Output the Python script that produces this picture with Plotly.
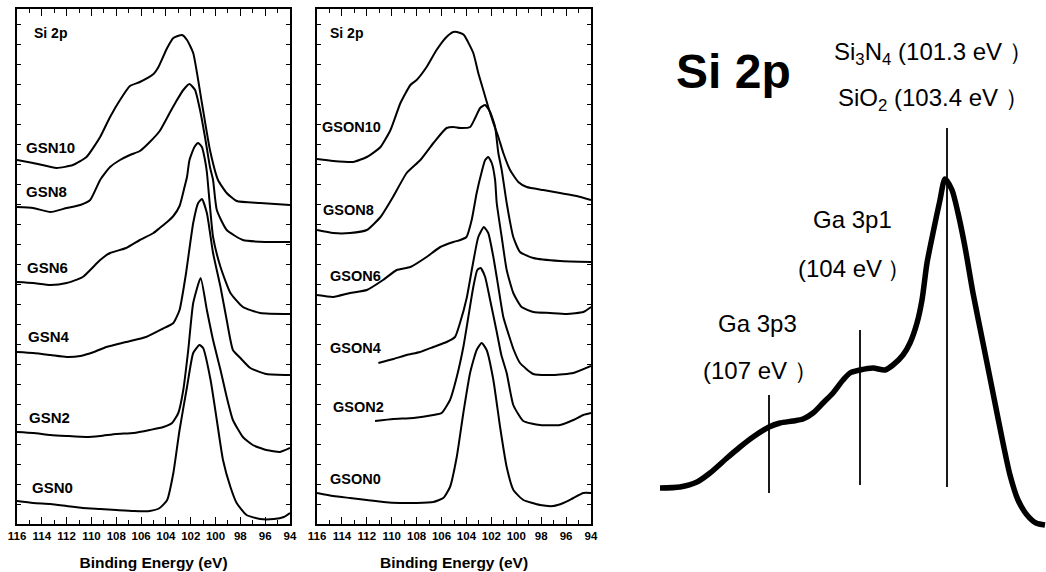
import plotly.graph_objects as go

W, H = 1046, 572

# ---------------- data (binding energy in eV, intensity in a.u.) ----------------
gsn10_e = [116.0, 114.7, 112.8, 111.5, 110.4, 109.3, 108.5, 107.7, 106.9, 106.1, 105.0, 104.6, 103.9, 103.4, 102.7, 102.3, 101.8, 101.1, 100.45, 99.8, 99.1, 98.3, 96.4, 94.0]
gsn10_i = [364, 361, 356, 359, 367, 387, 407, 424, 438, 442, 450, 457, 476, 486, 489, 484, 471, 421, 374, 344, 331, 323, 321, 319]

gsn8_e = [116.0, 114.7, 113.3, 112.0, 110.9, 110.1, 109.3, 108.5, 107.7, 106.9, 106.1, 105.3, 104.5, 103.7, 103.2, 102.6, 102.1, 101.65, 101.25, 100.85, 100.45, 100.2, 99.9, 99.1, 97.8, 96.0, 94.0]
gsn8_i = [317, 316, 312, 316, 319, 324, 344, 357, 364, 369, 373, 382, 393, 411, 422, 434, 440, 434, 414, 387, 357, 344, 314, 294, 284, 282, 282]

gsn6_e = [116.0, 114.7, 113.3, 112.0, 110.7, 109.3, 108.5, 107.2, 106.1, 105.0, 104.5, 103.9, 103.4, 102.9, 102.5, 102.3, 102.1, 101.7, 101.4, 101.1, 100.85, 100.7, 100.2, 99.6, 98.8, 97.8, 96.4, 94.0]
gsn6_i = [242, 241, 239, 241, 247, 264, 271, 276, 284, 291, 296, 302, 308, 318, 337, 347, 364, 377, 381, 377, 364, 352, 287, 257, 231, 217, 211, 210]

gsn4_e = [116.0, 114.7, 113.3, 112.0, 110.9, 109.8, 108.8, 107.2, 105.6, 104.3, 103.4, 102.9, 102.4, 101.8, 101.4, 101.1, 100.7, 100.2, 99.6, 99.1, 98.6, 98.0, 97.2, 95.9, 94.0]
gsn4_i = [172, 171, 169, 167, 168, 172, 177, 182, 187, 195, 201, 214, 249, 301, 321, 325, 311, 271, 237, 204, 174, 166, 156, 150, 149]

gsn2_e = [116.0, 114.7, 113.3, 112.0, 110.4, 109.3, 108.0, 106.6, 105.3, 104.2, 103.5, 103.0, 102.6, 102.2, 101.8, 101.2, 100.7, 100.2, 99.6, 99.1, 98.6, 97.8, 97.0, 95.9, 94.8, 94.0]
gsn2_i = [92, 91, 89, 88, 87, 88, 90, 91, 94, 97, 101, 111, 134, 174, 221, 246, 214, 184, 154, 127, 104, 87, 79, 74, 72, 76]

gsn0_e = [116.0, 114.7, 113.3, 112.0, 110.7, 109.3, 108.0, 106.6, 105.3, 104.5, 103.9, 103.4, 102.9, 102.3, 101.8, 101.3, 101.0, 100.4, 99.9, 99.4, 98.8, 98.3, 97.5, 96.4, 95.3, 94.5, 94.0]
gsn0_i = [23, 21, 20, 18, 16, 15, 14, 13, 13, 16, 24, 51, 94, 137, 171, 179, 176, 144, 104, 64, 37, 21, 9, 5, 5, 7, 11]

gson10_e = [116.0, 114.7, 113.1, 112.0, 110.9, 110.1, 109.3, 108.5, 108.0, 107.2, 106.4, 105.6, 105.05, 104.5, 104.2, 103.45, 103.05, 102.65, 102.25, 101.84, 101.44, 101.04, 100.5, 99.84, 99.16, 97.83, 96.49, 95.15, 94.0]
gson10_i = [365, 363, 362, 367, 377, 394, 421, 439, 444, 457, 474, 487, 492, 491, 489, 471, 451, 434, 417, 401, 387, 371, 354, 342, 337, 334, 331, 328, 324]

gson8_e = [116.0, 114.7, 113.35, 112.0, 110.9, 109.9, 108.8, 107.7, 106.65, 105.6, 105.05, 104.5, 103.7, 103.3, 102.9, 102.5, 102.1, 101.7, 101.44, 101.17, 100.77, 100.24, 99.7, 98.63, 96.49, 94.0]
gson8_i = [294, 291, 291, 294, 307, 327, 351, 364, 381, 396, 397, 396, 397, 406, 416, 419, 412, 397, 371, 354, 321, 287, 272, 266, 263, 262]

gson6_e = [116.0, 114.7, 113.35, 112.0, 110.7, 109.6, 108.5, 107.2, 106.1, 105.05, 104.5, 104.0, 103.58, 103.18, 102.78, 102.5, 102.25, 101.97, 101.7, 101.57, 101.17, 100.77, 100.24, 99.57, 98.63, 97.29, 95.95, 94.62, 94.0]
gson6_i = [229, 227, 231, 234, 244, 254, 257, 267, 277, 282, 284, 287, 304, 331, 352, 364, 367, 361, 344, 321, 287, 254, 231, 217, 212, 211, 210, 212, 217]

gson4_e = [111.07, 109.87, 108.8, 107.73, 106.66, 105.59, 104.92, 104.52, 103.98, 103.5, 103.05, 102.6, 102.25, 101.84, 101.44, 101.04, 100.6, 100.2, 99.7, 98.63, 97.03, 95.42, 94.0]
gson4_i = [161, 165, 169, 172, 177, 182, 187, 201, 226, 259, 287, 297, 291, 267, 237, 207, 189, 174, 161, 150, 149, 151, 158]

gson2_e = [111.34, 109.87, 108.26, 106.66, 105.99, 105.32, 104.78, 104.25, 103.85, 103.45, 103.13, 102.86, 102.5, 102.1, 101.6, 101.2, 100.77, 100.24, 99.44, 98.1, 96.49, 95.42, 94.62, 94.0]
gson2_i = [103, 105, 106, 109, 111, 124, 147, 177, 207, 237, 254, 256, 247, 224, 194, 169, 151, 119, 103, 99, 99, 104, 109, 111]

gson0_e = [116.0, 114.7, 113.35, 112.0, 110.67, 109.33, 108.0, 106.66, 105.86, 105.32, 104.78, 104.25, 103.71, 103.18, 102.78, 102.38, 101.84, 101.3, 100.77, 100.23, 99.43, 98.09, 97.02, 96.22, 95.42, 94.61, 94.0]
gson0_i = [31, 28, 26, 24, 22, 21, 21, 22, 26, 37, 67, 111, 151, 174, 181, 174, 144, 97, 57, 34, 24, 19, 18, 21, 26, 31, 31]

# schematic Si 2p envelope (arbitrary position / arbitrary intensity units)
sch_x = [20, 40, 57, 70, 87, 100, 113, 129, 140, 153, 163, 173, 183, 193, 203, 210, 220, 233, 245, 253, 263, 270, 277, 282, 287, 293, 300, 305, 312, 318, 325, 333, 343, 353, 363, 370, 378, 387, 396, 405]
sch_y = [84, 85, 90, 99, 114, 125, 135, 145, 149, 151, 153, 159, 169, 179, 192, 199, 202, 204, 202, 207, 217, 229, 249, 272, 309, 339, 372, 393, 382, 359, 325, 279, 229, 179, 129, 97, 72, 57, 49, 47]

# component marker lines: position, bottom, top
mark_x = [129, 220, 307]
mark_lo = [79, 87, 85]
mark_hi = [177, 242, 444]

left_labels = ["GSN10", "GSN8", "GSN6", "GSN4", "GSN2", "GSN0"]
mid_labels = ["GSON10", "GSON8", "GSON6", "GSON4", "GSON2", "GSON0"]
xticks = [116, 114, 112, 110, 108, 106, 104, 102, 100, 98, 96, 94]

# ---------------- figure ----------------
def fx(px):
    return px / W

def fy(py):
    return 1 - py / H

fig = go.Figure()

line = dict(color="black", width=2, shape="spline", smoothing=0.5)
left_series = [(gsn10_e, gsn10_i), (gsn8_e, gsn8_i), (gsn6_e, gsn6_i),
               (gsn4_e, gsn4_i), (gsn2_e, gsn2_i), (gsn0_e, gsn0_i)]
mid_series = [(gson10_e, gson10_i), (gson8_e, gson8_i), (gson6_e, gson6_i),
              (gson4_e, gson4_i), (gson2_e, gson2_i), (gson0_e, gson0_i)]
for (e, i), name in zip(left_series, left_labels):
    fig.add_trace(go.Scatter(x=e, y=i, mode="lines", line=line, name=name,
                             xaxis="x", yaxis="y", showlegend=False))
for (e, i), name in zip(mid_series, mid_labels):
    fig.add_trace(go.Scatter(x=e, y=i, mode="lines", line=line, name=name,
                             xaxis="x2", yaxis="y2", showlegend=False))

fig.add_trace(go.Scatter(x=sch_x, y=sch_y, mode="lines",
                         line=dict(color="black", width=5.5, shape="spline", smoothing=0.7),
                         xaxis="x3", yaxis="y3", showlegend=False))
for mx, lo, hi in zip(mark_x, mark_lo, mark_hi):
    fig.add_trace(go.Scatter(x=[mx, mx], y=[lo, hi], mode="lines",
                             line=dict(color="black", width=1.8),
                             xaxis="x3", yaxis="y3", showlegend=False))

ydom = [fy(524), fy(9)]
xax = dict(range=[116, 94], tickmode="array", tickvals=xticks, automargin=False,
           ticks="inside", ticklen=7, tickwidth=1.3, tickcolor="black",
           minor=dict(dtick=1, tick0=94, ticks="inside", ticklen=4, tickwidth=1.2, tickcolor="black"),
           showline=True, linecolor="black", linewidth=1.6, mirror="ticks",
           showgrid=False, zeroline=False,
           tickfont=dict(family="Liberation Sans, Arial", size=11.5, color="black", weight="bold"),
           title=dict(text="Binding Energy (eV)", standoff=17,
                      font=dict(family="Liberation Sans, Arial", size=15.5, color="black", weight="bold")))
yax = dict(range=[0, 515], domain=ydom, showticklabels=False, automargin=False,
           ticks="inside", ticklen=4, tickwidth=1.2, tickcolor="black", dtick=20, tick0=0,
           showline=True, linecolor="black", linewidth=1.6, mirror="ticks",
           showgrid=False, zeroline=False)

fig.update_layout(
    width=W, height=H, margin=dict(l=0, r=0, t=0, b=0, pad=0),
    paper_bgcolor="white", plot_bgcolor="white",
    xaxis=dict(xax, domain=[fx(17), fx(290)], anchor="y"),
    yaxis=dict(yax, anchor="x"),
    xaxis2=dict(xax, domain=[fx(317), fx(591)], anchor="y2"),
    yaxis2=dict(yax, anchor="x2"),
    xaxis3=dict(domain=[fx(640), 1], range=[0, 406], visible=False, anchor="y3", automargin=False),
    yaxis3=dict(domain=[0, 1], range=[0, 572], visible=False, anchor="x3", automargin=False),
)

bold = dict(family="Liberation Sans, Arial", size=15, color="black", weight="bold")
ann = []
# panel headers
ann.append(dict(text="Si 2p", x=fx(32), y=fy(33), xanchor="left", yanchor="middle",
                font=dict(bold, size=14)))
ann.append(dict(text="Si 2p", x=fx(328), y=fy(33), xanchor="left", yanchor="middle",
                font=dict(bold, size=14)))
left_pos = [(24, 147), (24, 192), (25, 267), (26, 336), (27, 417), (30, 487)]
mid_pos = [(320, 127), (321, 210), (328, 276), (328, 348), (331, 407), (328, 479)]
for t, (px, py) in zip(left_labels, left_pos):
    ann.append(dict(text=t, x=fx(px), y=fy(py), xanchor="left", yanchor="middle", font=bold))
for t, (px, py) in zip(mid_labels, mid_pos):
    ann.append(dict(text=t, x=fx(px), y=fy(py), xanchor="left", yanchor="middle",
                    font=dict(bold, size=14.5)))

reg = dict(family="Liberation Sans, Arial", size=24, color="black")
ann.append(dict(text="Si 2p", x=fx(733), y=fy(71), xanchor="center", yanchor="middle",
                font=dict(family="Liberation Sans, Arial", size=48, color="black", weight="bold")))
ann.append(dict(text="Si<sub>3</sub>N<sub>4</sub> (101.3 eV \uff09", x=fx(832), y=fy(53),
                xanchor="left", yanchor="middle", font=reg))
ann.append(dict(text="SiO<sub>2</sub> (103.4 eV \uff09", x=fx(836), y=fy(99),
                xanchor="left", yanchor="middle", font=reg))
ann.append(dict(text="Ga 3p1", x=fx(811), y=fy(220), xanchor="left", yanchor="middle", font=reg))
ann.append(dict(text="(104 eV\u2009\uff09", x=fx(796), y=fy(268), xanchor="left", yanchor="middle", font=reg))
ann.append(dict(text="Ga 3p3", x=fx(716), y=fy(323), xanchor="left", yanchor="middle", font=reg))
ann.append(dict(text="(107 eV \uff09", x=fx(701), y=fy(370), xanchor="left", yanchor="middle", font=reg))

for a in ann:
    a.update(xref="paper", yref="paper", showarrow=False)
fig.update_layout(annotations=ann)

fig.write_html("out.html", config={"displayModeBar": False},
               post_script="document.body.style.margin='0';document.body.style.overflow='hidden';")
